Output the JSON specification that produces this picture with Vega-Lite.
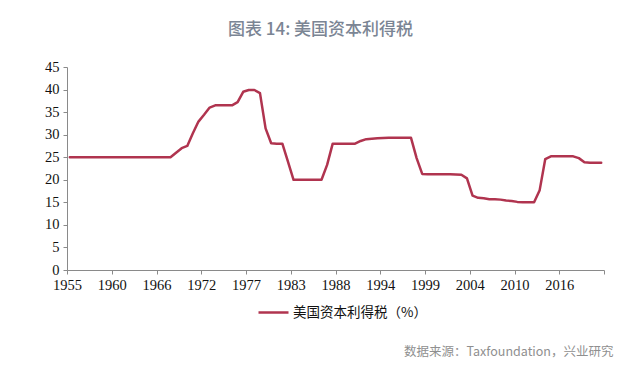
{
  "$schema": "https://vega.github.io/schema/vega-lite/v6.json",
  "autosize": {"type": "none"},
  "width": 537,
  "height": 203,
  "padding": {"left": 67, "top": 67, "right": 36, "bottom": 116},
  "background": "white",
  "title": {
    "text": "图表 14: 美国资本利得税",
    "anchor": "middle",
    "frame": "group",
    "dx": -15,
    "offset": 20,
    "font": "Noto Sans CJK SC",
    "fontSize": 17,
    "fontWeight": 500,
    "color": "#7b8594"
  },
  "data": {
    "values": [
      {"idx": 0, "rate": 25}, {"idx": 1, "rate": 25}, {"idx": 2, "rate": 25}, {"idx": 3, "rate": 25},
      {"idx": 4, "rate": 25}, {"idx": 5, "rate": 25}, {"idx": 6, "rate": 25}, {"idx": 7, "rate": 25},
      {"idx": 8, "rate": 25}, {"idx": 9, "rate": 25}, {"idx": 10, "rate": 25}, {"idx": 11, "rate": 25},
      {"idx": 12, "rate": 25}, {"idx": 13, "rate": 25}, {"idx": 14, "rate": 25}, {"idx": 15, "rate": 25},
      {"idx": 16, "rate": 25}, {"idx": 17, "rate": 25}, {"idx": 18, "rate": 25}, {"idx": 19, "rate": 26},
      {"idx": 20, "rate": 27}, {"idx": 21, "rate": 27.5}, {"idx": 22, "rate": 30.3}, {"idx": 23, "rate": 32.9},
      {"idx": 24, "rate": 34.4}, {"idx": 25, "rate": 36}, {"idx": 26, "rate": 36.5}, {"idx": 27, "rate": 36.5},
      {"idx": 28, "rate": 36.5}, {"idx": 29, "rate": 36.5}, {"idx": 30, "rate": 37.2}, {"idx": 31, "rate": 39.5},
      {"idx": 32, "rate": 39.9}, {"idx": 33, "rate": 39.9}, {"idx": 34, "rate": 39.2}, {"idx": 35, "rate": 31.4},
      {"idx": 36, "rate": 28.1}, {"idx": 37, "rate": 28}, {"idx": 38, "rate": 28}, {"idx": 39, "rate": 24},
      {"idx": 40, "rate": 20}, {"idx": 41, "rate": 20}, {"idx": 42, "rate": 20}, {"idx": 43, "rate": 20},
      {"idx": 44, "rate": 20}, {"idx": 45, "rate": 20}, {"idx": 46, "rate": 23.3}, {"idx": 47, "rate": 28},
      {"idx": 48, "rate": 28}, {"idx": 49, "rate": 28}, {"idx": 50, "rate": 28}, {"idx": 51, "rate": 28},
      {"idx": 52, "rate": 28.6}, {"idx": 53, "rate": 29}, {"idx": 54, "rate": 29.1}, {"idx": 55, "rate": 29.2},
      {"idx": 56, "rate": 29.25}, {"idx": 57, "rate": 29.3}, {"idx": 58, "rate": 29.3}, {"idx": 59, "rate": 29.3},
      {"idx": 60, "rate": 29.3}, {"idx": 61, "rate": 29.3}, {"idx": 62, "rate": 24.8}, {"idx": 63, "rate": 21.3},
      {"idx": 64, "rate": 21.2}, {"idx": 65, "rate": 21.2}, {"idx": 66, "rate": 21.2}, {"idx": 67, "rate": 21.2},
      {"idx": 68, "rate": 21.2}, {"idx": 69, "rate": 21.15}, {"idx": 70, "rate": 21.1}, {"idx": 71, "rate": 20.3},
      {"idx": 72, "rate": 16.5}, {"idx": 73, "rate": 16}, {"idx": 74, "rate": 15.9}, {"idx": 75, "rate": 15.7},
      {"idx": 76, "rate": 15.7}, {"idx": 77, "rate": 15.6}, {"idx": 78, "rate": 15.4}, {"idx": 79, "rate": 15.3},
      {"idx": 80, "rate": 15.1}, {"idx": 81, "rate": 15}, {"idx": 82, "rate": 15}, {"idx": 83, "rate": 15},
      {"idx": 84, "rate": 17.7}, {"idx": 85, "rate": 24.6}, {"idx": 86, "rate": 25.2}, {"idx": 87, "rate": 25.2},
      {"idx": 88, "rate": 25.2}, {"idx": 89, "rate": 25.2}, {"idx": 90, "rate": 25.2}, {"idx": 91, "rate": 24.8},
      {"idx": 92, "rate": 23.9}, {"idx": 93, "rate": 23.8}, {"idx": 94, "rate": 23.8}, {"idx": 95, "rate": 23.8}
    ]
  },
  "mark": {"type": "line", "strokeWidth": 2.5, "strokeJoin": "round", "strokeCap": "round"},
  "encoding": {
    "x": {
      "field": "idx",
      "type": "quantitative",
      "scale": {"domain": [-0.5, 95.5], "nice": false, "zero": false},
      "axis": {
        "values": [-0.5, 7.5, 15.5, 23.5, 31.5, 39.5, 47.5, 55.5, 63.5, 71.5, 79.5, 87.5, 95.5],
        "labelExpr": "['1955','1960','1966','1972','1977','1983','1988','1994','1999','2004','2010','2016',''][round((datum.value+0.5)/8)]",
        "labelFlush": false,
        "labelOverlap": false,
        "labelFont": "Liberation Serif",
        "labelFontSize": 14.5,
        "labelColor": "#111111",
        "labelPadding": 4,
        "tickSize": 4,
        "tickColor": "#8a8a8a",
        "domainColor": "#8a8a8a",
        "grid": false,
        "title": "数据来源：Taxfoundation，兴业研究",
        "titleFont": "Noto Sans CJK SC",
        "titleFontSize": 12.5,
        "titleFontWeight": "normal",
        "titleColor": "#8f8f8f",
        "titleAlign": "right",
        "titleAnchor": null,
        "titleBaseline": "middle",
        "titleX": 546,
        "titleY": 81
      }
    },
    "y": {
      "field": "rate",
      "type": "quantitative",
      "scale": {"domain": [0, 45], "nice": false},
      "axis": {
        "values": [0, 5, 10, 15, 20, 25, 30, 35, 40, 45],
        "labelFont": "Liberation Serif",
        "labelFontSize": 14.5,
        "labelColor": "#111111",
        "labelPadding": 4,
        "tickSize": 4,
        "tickColor": "#8a8a8a",
        "domainColor": "#8a8a8a",
        "grid": false,
        "title": null
      }
    },
    "color": {
      "datum": "美国资本利得税（%）",
      "type": "nominal",
      "scale": {"range": ["#b0344f"]},
      "legend": {
        "orient": "none",
        "legendX": 190,
        "legendY": 229,
        "title": null,
        "padding": 0,
        "symbolType": "stroke",
        "symbolSize": 900,
        "symbolStrokeWidth": 2.5,
        "labelFont": "Noto Sans CJK SC",
        "labelFontSize": 13.5,
        "labelColor": "#111111",
        "labelOffset": 3
      }
    }
  },
  "config": {"view": {"stroke": null}}
}
